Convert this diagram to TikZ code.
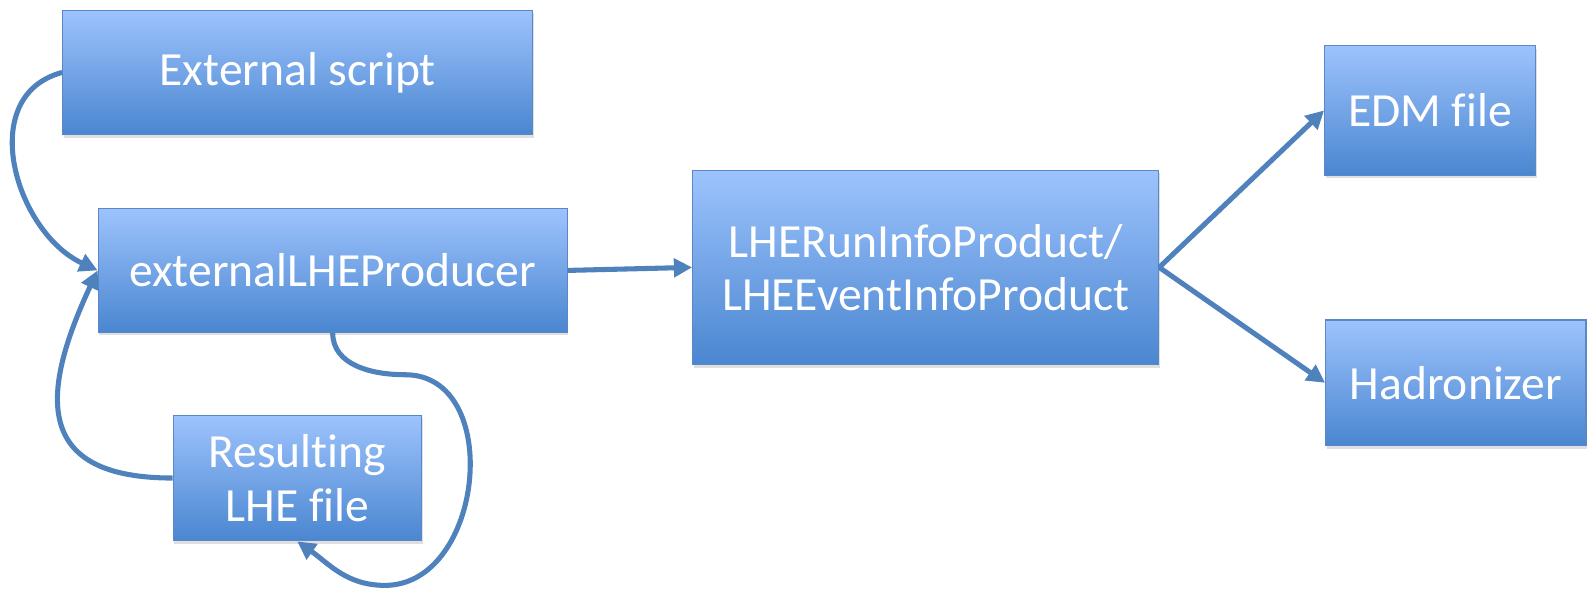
\documentclass[tikz,border=0pt]{standalone}
\usepackage{fontspec}
\setmainfont{Carlito}[Ligatures=NoCommon]
\definecolor{FlowTop}{HTML}{9DC3FD}
\definecolor{FlowMid}{HTML}{84AFF0}
\definecolor{FlowBottom}{HTML}{4A86D0}
\definecolor{FlowEdge}{HTML}{5A88C4}
\definecolor{FlowLink}{HTML}{4F81BD}
\usepackage{tikz}
\usetikzlibrary{arrows.meta,shadows}

\begin{document}
\begin{tikzpicture}[
    x=0.5pt, y=-0.5pt,
    flowbox/.style={
      draw=FlowEdge,
      line width=0.6pt,
      top color=FlowTop,
      middle color=FlowMid,
      bottom color=FlowBottom,
      drop shadow={opacity=0.25, shadow xshift=0.6pt, shadow yshift=-1.6pt},
      text=white,
      align=center,
      inner sep=0pt,
      font=\fontsize{23.5}{26.5}\selectfont
    },
    link/.style={
      draw=FlowLink,
      line width=2.5pt,
      -{Triangle[length=9pt,width=9pt]}
    }
  ]
    \useasboundingbox (0,0) rectangle (1568,585);

    \node[flowbox, minimum width=232pt, minimum height=61.5pt] (ext) at (294,71.5) {External script};
    \node[flowbox, minimum width=231.5pt, minimum height=61pt] (prod) at (328.5,267) {externalLHEProducer};
    \node[flowbox, minimum width=122.5pt, minimum height=62pt] (res) at (293.5,472) {Resulting\\LHE file};
    \node[flowbox, minimum width=230pt, minimum height=96pt, text depth=0pt] (lhe) at (914,264) {LHERunInfoProduct/\\LHEEventInfoProduct};
    \node[flowbox, minimum width=104pt, minimum height=64pt] (edm) at (1412,109) {EDM file};
    \node[flowbox, minimum width=128.5pt, minimum height=62pt] (had) at (1437.5,378) {Hadronizer};

    \coordinate (bend) at (400,370);
    \coordinate (turn) at (380,578);

    \draw[link] (ext.west) to[out=195, in=155, looseness=1.15] (prod.west);
    \draw[link] (res.west) to[out=180, in=245, looseness=1.6] (prod.west);
    \draw[link] (prod.south) to[out=-90, in=180] (bend)
      to[out=0, in=0, looseness=1.2] (turn)
      to[out=180, in=-35] (res.south);
    \draw[link] (prod.east) -- (lhe.west);
    \draw[link] (lhe.east) -- (edm.west);
    \draw[link] (lhe.east) -- (had.west);
  \end{tikzpicture}
\end{document}
